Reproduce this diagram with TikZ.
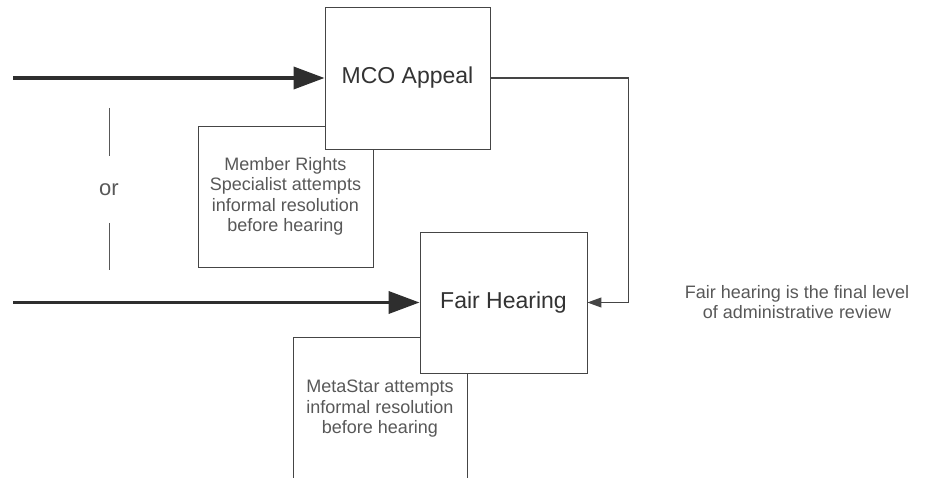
\documentclass[tikz,border=0pt]{standalone}
\usepackage{fontspec}
\setmainfont{Liberation Sans}
\usetikzlibrary{arrows.meta}
\definecolor{boxline}{HTML}{454545}
\definecolor{bigtext}{HTML}{333333}
\definecolor{smalltext}{HTML}{585858}
\definecolor{arrowdark}{HTML}{2E2E2E}
\tikzset{
	stage/.style={draw=boxline, fill=white, line width=0.9pt, text=bigtext, inner sep=0pt, font=\fontsize{23}{27}\selectfont},
	note/.style={draw=boxline, fill=white, line width=0.8pt, text=smalltext, align=center, inner sep=0pt, font=\fontsize{18}{20.5}\selectfont},
	entry/.style={draw=arrowdark, line width=3.6pt, -{Triangle[length=31pt,width=22pt]}},
	link/.style={draw=boxline, line width=1.1pt, -{Triangle[length=14pt,width=10pt]}},
	divider/.style={draw=smalltext, line width=0.9pt}
}

\begin{document}
\begin{tikzpicture}[x=1pt, y=-1pt]
		\clip (0,0) rectangle (934,478);
		% helper boxes sit behind the stages
		\node (rights)[note, minimum width=175, minimum height=141] at (285.5,196.5) {Member Rights\\Specialist attempts\\informal resolution\\before hearing};
		\node (metastar)[note, minimum width=174, minimum height=144] at (380,409) {MetaStar attempts\\informal resolution\\before hearing};

		\node (mco)[stage, minimum width=165, minimum height=142] at (407.5,78) {MCO Appeal};
		\node (fair)[stage, minimum width=167, minimum height=141] at (503.5,302.5) {Fair Hearing};

		\coordinate (startA) at (13,78);
		\coordinate (startB) at (13,302.5);
		\draw [entry](startA) -- (mco.west);
		\draw [entry](startB) -- (fair.west);
		\draw [link](mco.east) -- ++(138,0) |- (fair.east);

		% either way in
		\node (orlabel)[text=smalltext, font=\fontsize{22}{26}\selectfont] at (109,190) {or};
		\coordinate (orA) at (109,108);
		\coordinate (orB) at (109,156);
		\coordinate (orC) at (109,223);
		\coordinate (orD) at (109,270);
		\draw [divider](orA) -- (orB);
		\draw [divider](orC) -- (orD);

		\node (final)[text=smalltext, align=center, font=\fontsize{18}{20.5}\selectfont] at (797,302) {Fair hearing is the final level\\of administrative review};
	\end{tikzpicture}
\end{document}
